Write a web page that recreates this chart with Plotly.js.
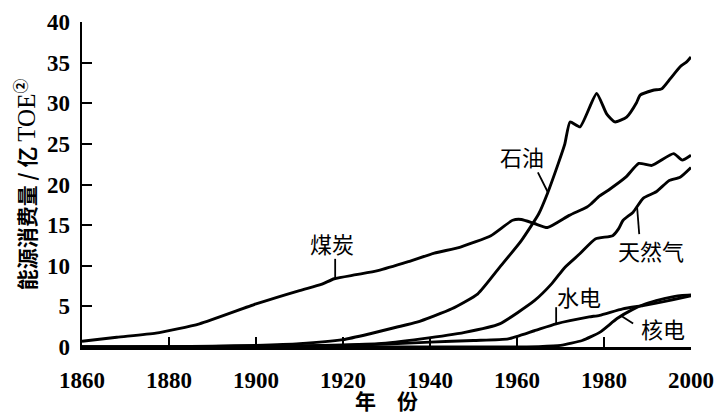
<!DOCTYPE html>
<html>
<head>
<meta charset="utf-8">
<script src="https://cdn.plot.ly/plotly-3.0.1.min.js"></script>
<style>html,body{margin:0;padding:0;background:#fff;}#chart{width:716px;height:415px;}</style>
</head>
<body>
<div id="chart"></div>
<script>
// ---- data ----
const coalYears  = [1860,1868,1877,1887,1900,1910,1915,1918,1923,1928,1935,1941,1947,1954,1959,1961,1964,1967,1972,1976,1977,1979,1981,1985,1988,1991,1996,1998,2000];
const coalValues = [0.7,1.2,1.7,2.85,5.3,6.95,7.7,8.4,8.9,9.4,10.5,11.55,12.3,13.7,15.6,15.7,15.2,14.7,16.2,17.2,17.6,18.6,19.3,20.9,22.6,22.35,23.8,23.0,23.6];

const oilYears  = [1860,1870,1880,1890,1900,1910,1920,1926,1932,1937,1945,1951,1956,1961,1965,1967,1969.5,1971,1972.2,1974.5,1978.3,1980.6,1982.5,1985.2,1987.5,1988.3,1991.3,1993.3,1995.2,1997.5,1999,2000];
const oilValues = [0,0.02,0.05,0.1,0.2,0.4,0.9,1.6,2.4,3.05,4.7,6.55,9.8,13.1,16.4,18.9,22.6,25.0,27.7,27.1,31.2,28.7,27.7,28.3,30.1,31.0,31.6,31.8,33.0,34.5,35.1,35.7];

const gasYears  = [1860,1880,1900,1915,1928,1938,1948,1956,1964,1968,1971,1974.5,1978,1982,1983.3,1984.4,1986.7,1989,1992,1995,1997.5,2000];
const gasValues = [0,0.02,0.1,0.2,0.4,1.0,1.8,2.85,5.7,7.8,9.8,11.5,13.3,13.7,14.5,15.6,16.6,18.3,19.1,20.5,20.9,22.1];

const hydroYears  = [1860,1900,1910,1920,1930,1940,1950,1958,1964,1969,1976.6,1979,1984.3,1989,1992,1996,2000];
const hydroValues = [0,0,0.1,0.2,0.35,0.6,0.8,1.0,2.0,2.85,3.7,3.9,4.7,5.1,5.4,5.85,6.3];

const nuclearYears  = [1860,1960,1965,1970,1975,1979,1983,1986.5,1989,1992,1996,1998,2000];
const nuclearValues = [0,0,0.05,0.2,0.8,1.8,3.5,4.6,5.2,5.7,6.2,6.35,6.4];

const xTicks = [1860,1880,1900,1920,1940,1960,1980,2000];
const yTicks = [0,5,10,15,20,25,30,35,40];

const seriesNames = ['煤炭','石油','天然气','水电','核电'];

// ---- helpers ----
function interp(xs, ys, x){
  for(let i=0;i<xs.length-1;i++){
    if(x>=xs[i] && x<=xs[i+1]){
      const t=(x-xs[i])/(xs[i+1]-xs[i]);
      return ys[i]+t*(ys[i+1]-ys[i]);
    }
  }
  return ys[ys.length-1];
}

const SERIF = '"Liberation Serif", "Times New Roman", "DejaVu Serif", serif';
const CJK = '"Noto Sans CJK SC", "Noto Sans", sans-serif';

const lineStyle = {color:'#000', width:2.9, shape:'spline', smoothing:0.5};
const all = [
  [coalYears,coalValues],[oilYears,oilValues],[gasYears,gasValues],
  [hydroYears,hydroValues],[nuclearYears,nuclearValues]
];
const traces = all.map((s,i)=>({
  x:s[0], y:s[1], type:'scatter', mode:'lines', name:seriesNames[i],
  line:lineStyle, hoverinfo:'x+y'
}));

// label positions (data coords) and leader lines
const labelCfg = [
  {text:'煤炭',  x:1917.5, y:12.75, lx0:1918.2, ly0:10.85, lx1:1918.2, s:0},
  {text:'石油',  x:1961.1, y:23.5,  lx0:1964.8, ly0:21.5,  lx1:1967.1, s:1},
  {text:'天然气',x:1990.8, y:11.9,  lx0:1988.1, ly0:13.9,  lx1:1987.6, s:2},
  {text:'水电',  x:1974.3, y:6.3,   lx0:1969.0, ly0:4.9,   lx1:1969.0, s:3},
  {text:'核电',  x:1993.6, y:2.35,  lx0:1986.7, ly0:2.9,   lx1:1984.0, s:4}
];

const annotations = labelCfg.map(c=>({
  text:c.text, x:c.x, y:c.y, xref:'x', yref:'y', showarrow:false,
  xanchor:'center', yanchor:'middle',
  font:{family:CJK, size:22, color:'#000'}
}));
const shapes = labelCfg.map(c=>({
  type:'line', xref:'x', yref:'y',
  x0:c.lx0, y0:c.ly0, x1:c.lx1, y1:interp(all[c.s][0], all[c.s][1], c.lx1),
  line:{color:'#000', width:1.8}
}));

const layout = {
  width:716, height:415,
  margin:{l:82, r:25, t:22, b:68, pad:0},
  paper_bgcolor:'#fff', plot_bgcolor:'#fff',
  showlegend:false,
  font:{family:SERIF, color:'#000'},
  xaxis:{
    range:[1860,2000], tickvals:xTicks, ticktext:xTicks.map(String),
    ticks:'inside', ticklen:10, tickwidth:2, tickcolor:'#000',
    showline:true, linewidth:3, linecolor:'#000',
    showgrid:false, zeroline:false, fixedrange:true,
    tickfont:{family:SERIF, size:23, weight:'bold', color:'#000'},
    ticklabelstandoff:10,
    title:{text:'年　份', font:{family:CJK, size:21, weight:'bold', color:'#000'}, standoff:0}
  },
  yaxis:{
    range:[0,40], tickvals:yTicks, ticktext:yTicks.map(String),
    ticks:'inside', ticklen:10, tickwidth:2, tickcolor:'#000',
    showline:true, linewidth:2.5, linecolor:'#000',
    showgrid:false, zeroline:false, fixedrange:true,
    tickfont:{family:SERIF, size:23, weight:'bold', color:'#000'},
    ticklabelstandoff:5,
    title:{text:'能源消费量 / 亿 <span style="font-family:Liberation Serif;font-weight:normal;font-size:25px">TOE</span><sup>②</sup>',
           font:{family:CJK, size:21, weight:'bold', color:'#000'}, standoff:6}
  },
  annotations:annotations,
  shapes:shapes
};

Plotly.newPlot('chart', traces, layout, {displayModeBar:false, staticPlot:true});
</script>
</body>
</html>
